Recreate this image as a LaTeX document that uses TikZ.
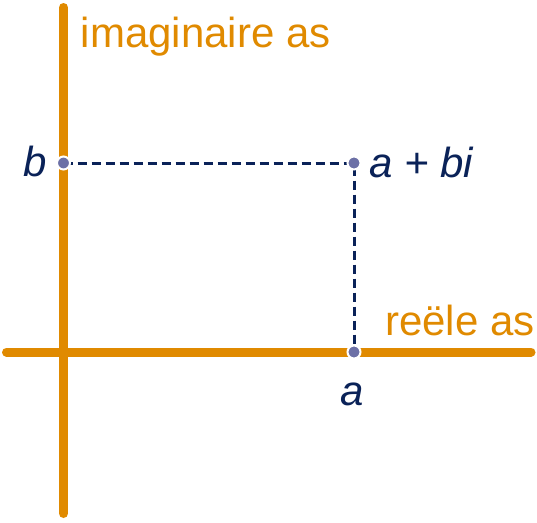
\documentclass[tikz,border=0pt]{standalone}
\usepackage{fontspec}
\setmainfont{Liberation Sans}
\definecolor{asoranje}{RGB}{224,138,0}
\definecolor{donkerblauw}{RGB}{10,34,88}
\definecolor{puntgrijs}{RGB}{108,112,166}

\begin{document}
\begin{tikzpicture}[x=1pt, y=-1pt,
  as/.style={asoranje, line width=9pt, line cap=round},
  hulplijn/.style={donkerblauw, line width=3pt, dash pattern=on 9pt off 5pt},
  punt/.style={circle, fill=puntgrijs, draw=white, line width=2pt, minimum size=13pt, inner sep=0pt},
  tekst/.style={font=\fontsize{42}{50}\selectfont, inner sep=0pt}]
  \useasboundingbox (0,0) rectangle (537,522);

  % assen
  \coordinate (re-begin) at (6.5,352);
  \coordinate (re-eind) at (531,352);
  \coordinate (im-begin) at (63.5,513.5);
  \coordinate (im-eind) at (63.5,7.5);
  \draw[as] (re-begin) -- (re-eind);
  \draw[as] (im-begin) -- (im-eind);
  \node[tekst, asoranje, anchor=base west] (im-label) at (80.5,47) {imaginaire as};
  \node[tekst, asoranje, anchor=base west] (re-label) at (385,335) {reële as};

  % punten
  \coordinate (b) at (63.5,163);
  \coordinate (z) at (354,163);
  \coordinate (a) at (354,352);
  \draw[hulplijn] (b) -- (z) -- (a);
  \node[punt] (b-punt) at (b) {};
  \node[punt] (z-punt) at (z) {};
  \node[punt] (a-punt) at (a) {};

  % labels
  \node[tekst, donkerblauw, anchor=base east] (b-label) at (47,176) {\itshape b};
  \node[tekst, donkerblauw, anchor=base west] (z-label) at (369,177) {\itshape a + bi};
  \node[tekst, donkerblauw, anchor=base] (a-label) at (352,405) {\itshape a};
\end{tikzpicture}
\end{document}
